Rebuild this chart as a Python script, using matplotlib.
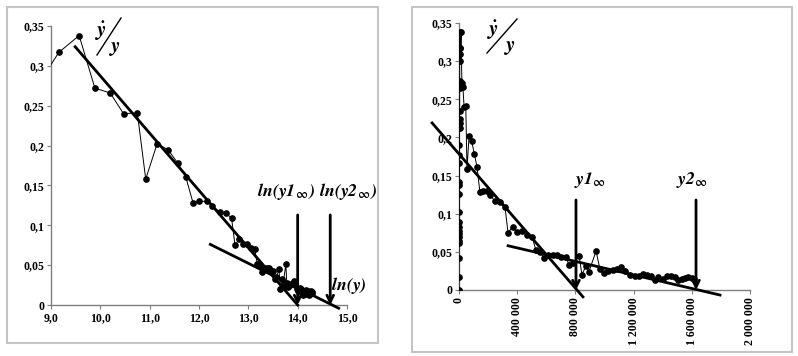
import numpy as np
import matplotlib.pyplot as plt
from matplotlib.lines import Line2D
from matplotlib.patches import Rectangle
from matplotlib.ticker import FuncFormatter

plt.rcParams['font.family'] = ['Liberation Serif', 'DejaVu Serif']
plt.rcParams['font.weight'] = 'bold'
plt.rcParams['mathtext.fontset'] = 'stix'

# -----------------------------
# data
# -----------------------------
# left panel: growth rate vs ln(y)
ln_y = [8.9, 9.16, 9.57, 9.89, 10.2, 10.47, 10.75, 10.92, 11.15, 11.37, 11.57, 11.73,
        11.88, 12.01, 12.17, 12.27, 12.42, 12.55, 12.66, 12.73, 12.82, 12.90, 12.98,
        13.05, 13.13, 13.18, 13.23, 13.28, 13.32, 13.38, 13.42, 13.46, 13.51, 13.54,
        13.57, 13.62, 13.65, 13.68, 13.70, 13.76, 13.78, 13.81, 13.84, 13.87, 13.90,
        13.92, 13.95, 13.98, 14.01, 14.03, 14.05, 14.07, 14.09, 14.11, 14.13, 14.15,
        14.17, 14.19, 14.21, 14.22, 14.24, 14.26, 14.27, 14.29, 14.30]
rate_left = [0.292, 0.317, 0.338, 0.272, 0.266, 0.240, 0.241, 0.158, 0.202, 0.195, 0.178,
             0.161, 0.128, 0.130, 0.130, 0.124, 0.117, 0.115, 0.109, 0.075, 0.083, 0.076,
             0.077, 0.072, 0.070, 0.052, 0.050, 0.042, 0.046, 0.046, 0.046, 0.043, 0.043,
             0.033, 0.035, 0.045, 0.020, 0.032, 0.024, 0.051, 0.027, 0.022, 0.025, 0.026,
             0.028, 0.030, 0.025, 0.020, 0.018, 0.018, 0.021, 0.020, 0.018, 0.013, 0.017,
             0.014, 0.019, 0.018, 0.017, 0.013, 0.014, 0.016, 0.017, 0.016, 0.015]

# right panel: growth rate vs y
y_lvl = [100, 300, 500, 700, 900, 1100, 1300, 1500, 1700, 1900, 2100, 2300, 2500, 2700,
         2900, 3100, 3300, 3500, 3700, 3900, 4100, 4300, 4500, 4700, 4900, 5200, 8100,
         9500, 14300, 19700, 27000, 35000, 46600, 55000, 69000, 87000, 106000, 124000,
         144000, 165000, 192000, 213000, 247000, 282000, 316000, 337000, 371000, 399000,
         433000, 467000, 502000, 529000, 557000, 584000, 612000, 646000, 674000, 701000,
         735000, 756000, 783000, 825000, 845000, 873000, 893000, 942000, 969000, 997000,
         1024000, 1058000, 1085000, 1113000, 1141000, 1175000, 1210000, 1237000, 1264000,
         1292000, 1320000, 1347000, 1368000, 1402000, 1430000, 1457000, 1485000, 1506000,
         1533000, 1553000, 1574000, 1600000, 1615000]
rate_right = [0.0, 0.017, 0.042, 0.061, 0.064, 0.069, 0.073, 0.077, 0.083, 0.089, 0.102,
              0.126, 0.138, 0.142, 0.166, 0.177, 0.190, 0.212, 0.219, 0.224, 0.235, 0.265,
              0.274, 0.310, 0.317, 0.338, 0.300, 0.317, 0.338, 0.272, 0.266, 0.240, 0.241,
              0.158, 0.202, 0.195, 0.178, 0.161, 0.128, 0.130, 0.130, 0.124, 0.117, 0.115,
              0.109, 0.075, 0.083, 0.076, 0.077, 0.072, 0.070, 0.052, 0.050, 0.042, 0.046,
              0.046, 0.046, 0.043, 0.043, 0.033, 0.035, 0.045, 0.020, 0.032, 0.024, 0.051,
              0.027, 0.022, 0.025, 0.026, 0.028, 0.030, 0.025, 0.020, 0.018, 0.018, 0.021,
              0.020, 0.018, 0.013, 0.017, 0.014, 0.019, 0.018, 0.017, 0.013, 0.014, 0.016,
              0.017, 0.016, 0.015]

# hand-drawn trend lines (end points)
left_fit1_x, left_fit1_y = [9.49, 14.0], [0.324, 0.0]
left_fit2_x, left_fit2_y = [12.23, 14.83], [0.076, -0.004]
right_fit1_x, right_fit1_y = [-185000, 852000], [0.219, -0.009]
right_fit2_x, right_fit2_y = [337000, 1794000], [0.058, -0.0066]

left_arrows_x = [14.0, 14.66]
right_arrows_x = [804000, 1629000]
left_yticks = [0, 0.05, 0.1, 0.15, 0.2, 0.25, 0.3, 0.35]
left_xticks = [9, 10, 11, 12, 13, 14, 15]
right_xticks = [0, 400000, 800000, 1200000, 1600000, 2000000]

W, H = 798, 356
fig = plt.figure(figsize=(W / 100, H / 100), dpi=100)


def px(x, y):
    return x / W, 1 - y / H


def comma(v, _pos):
    s = f"{v:.2f}".rstrip('0').rstrip('.')
    return s.replace('.', ',')


def style_axes(ax):
    for s in ('top', 'right'):
        ax.spines[s].set_visible(False)
    for s in ('left', 'bottom'):
        ax.spines[s].set_color('#7f7f7f')
        ax.spines[s].set_linewidth(1.0)
    ax.tick_params(direction='out', length=3, width=0.8, color='#7f7f7f',
                   labelsize=8.5, pad=2)


def draw_series(ax, x, y, fit1, fit2, arrows_x, arrow_top):
    ax.plot(x, y, color='black', lw=0.7, marker='o', ms=3.8, zorder=3)
    ax.plot(*fit1, color='black', lw=2, clip_on=False, zorder=4)
    ax.plot(*fit2, color='black', lw=2, clip_on=False, zorder=4)
    for xa in arrows_x:
        ax.annotate('', xy=(xa, 0.0), xytext=(xa, arrow_top),
                    arrowprops=dict(arrowstyle='->', lw=2, color='black',
                                    mutation_scale=12, shrinkA=0, shrinkB=0),
                    annotation_clip=False, zorder=5)


lab_kw = dict(fontsize=13, ha='center', va='center', color='black')

# ---------------- left panel ----------------
fig.add_artist(Rectangle(px(7, 343), 371 / W, 336 / H, transform=fig.transFigure,
                         fill=False, edgecolor='#c4c4c4', lw=1.5))
axl = fig.add_axes([51 / W, 1 - 305 / H, 296 / W, 279 / H])
draw_series(axl, ln_y, rate_left, (left_fit1_x, left_fit1_y),
            (left_fit2_x, left_fit2_y), left_arrows_x, 0.113)
axl.set_xlim(9, 15)
axl.set_ylim(0, 0.35)
axl.set_xticks(left_xticks)
axl.set_yticks(left_yticks)
axl.xaxis.set_major_formatter(FuncFormatter(lambda v, p: f"{v:.1f}".replace('.', ',')))
axl.yaxis.set_major_formatter(FuncFormatter(comma))
style_axes(axl)
axl.text(13.77, 0.143, r'$\mathbfit{ln(y1}_{\infty}\mathbfit{)}$', **lab_kw)
axl.text(15.02, 0.143, r'$\mathbfit{ln(y2}_{\infty}\mathbfit{)}$', **lab_kw,
         clip_on=False)
axl.text(15.03, 0.025, r'$\mathbfit{ln(y)}$', **lab_kw, clip_on=False)

# ---------------- right panel ----------------
fig.add_artist(Rectangle(px(412, 352), 380 / W, 345 / H, transform=fig.transFigure,
                         fill=False, edgecolor='#c4c4c4', lw=1.5))
axr = fig.add_axes([459 / W, 1 - 290 / H, 291 / W, 267 / H])
draw_series(axr, y_lvl, rate_right, (right_fit1_x, right_fit1_y),
            (right_fit2_x, right_fit2_y), right_arrows_x, 0.118)
axr.set_xlim(0, 2000000)
axr.set_ylim(0, 0.35)
axr.set_xticks(right_xticks)
axr.set_yticks(left_yticks)
axr.xaxis.set_major_formatter(FuncFormatter(lambda v, p: f"{int(v):,}".replace(',', ' ')))
axr.yaxis.set_major_formatter(FuncFormatter(comma))
style_axes(axr)
axr.tick_params(axis='x', labelrotation=90)
axr.text(900000, 0.144, r'$\mathbfit{y1}_{\infty}$', **lab_kw)
axr.text(1600000, 0.144, r'$\mathbfit{y2}_{\infty}$', **lab_kw)

# y-dot over y labels with a slash
for (dx, dy), (yx, yy), (s0, s1) in [
        ((101, 31), (115, 48), ((97, 55), (121, 18))),
        ((493, 30), (510, 47), ((487, 53), (517, 19)))]:
    fig.text(*px(dx, dy), r'$\dot{\mathbfit{y}}$', fontsize=15, ha='center', va='center')
    fig.text(*px(yx, yy), r'$\mathbfit{y}$', fontsize=15, ha='center', va='center')
    (x0, y0), (x1, y1) = px(*s0), px(*s1)
    fig.add_artist(Line2D([x0, x1], [y0, y1], transform=fig.transFigure,
                          color='black', lw=1.0))

fig.savefig('out.png', dpi=100)
